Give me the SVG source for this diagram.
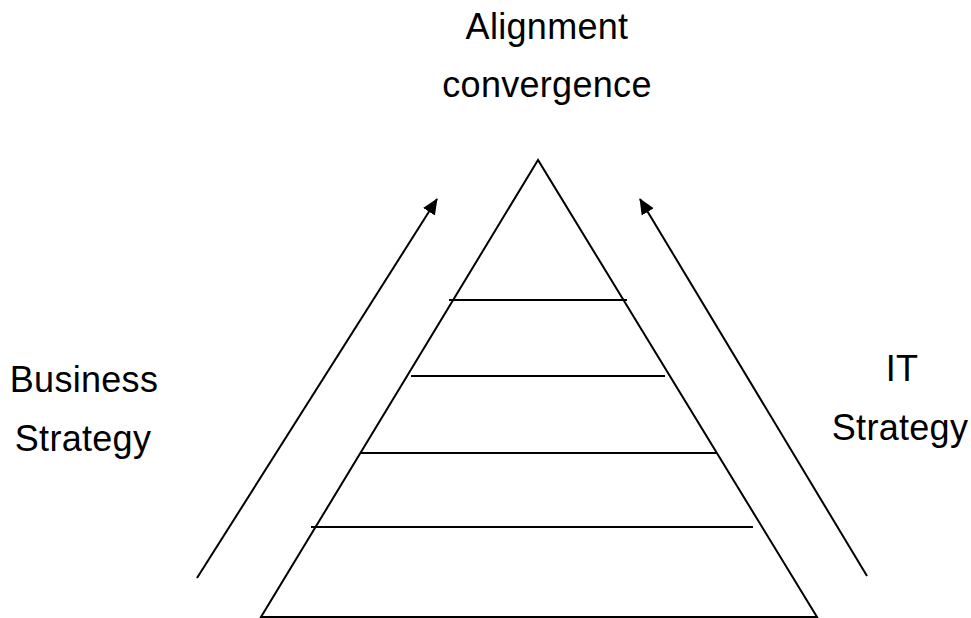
<svg xmlns="http://www.w3.org/2000/svg" width="971" height="618" viewBox="0 0 971 618">
<style>
.ln{stroke:#000;stroke-width:2;fill:none}
.t{font-family:"Liberation Sans",Arial,sans-serif;font-size:36px;letter-spacing:0.3px;fill:#000;text-anchor:middle}
</style>
<defs>
<marker id="ah" markerUnits="userSpaceOnUse" markerWidth="18" markerHeight="16" refX="15" refY="7" orient="auto" viewBox="0 0 18 14">
<path d="M0,0 L16,7 L0,14 z" fill="#000"/>
</marker>
</defs>
<rect width="971" height="618" fill="#fff"/>
<g id="pyramid">
<polygon class="ln" points="538,160 261,617 817,617"/>
<line class="ln" x1="449" y1="300" x2="627" y2="300"/>
<line class="ln" x1="411" y1="376" x2="665" y2="376"/>
<line class="ln" x1="361" y1="453" x2="716" y2="453"/>
<line class="ln" x1="311" y1="527" x2="753" y2="527"/>
</g>
<g id="connectors">
<line class="ln" x1="197" y1="578" x2="437" y2="199" marker-end="url(#ah)"/>
<line class="ln" x1="867" y1="576" x2="640" y2="199" marker-end="url(#ah)"/>
</g>
<g id="top-label">
<text class="t" x="547" y="39">Alignment</text>
<text class="t" x="547" y="97">convergence</text>
</g>
<g id="business">
<text class="t" x="84" y="392">Business</text>
<text class="t" x="83" y="451">Strategy</text>
</g>
<g id="it">
<text class="t" x="902" y="381">IT</text>
<text class="t" x="900" y="440">Strategy</text>
</g>
</svg>
